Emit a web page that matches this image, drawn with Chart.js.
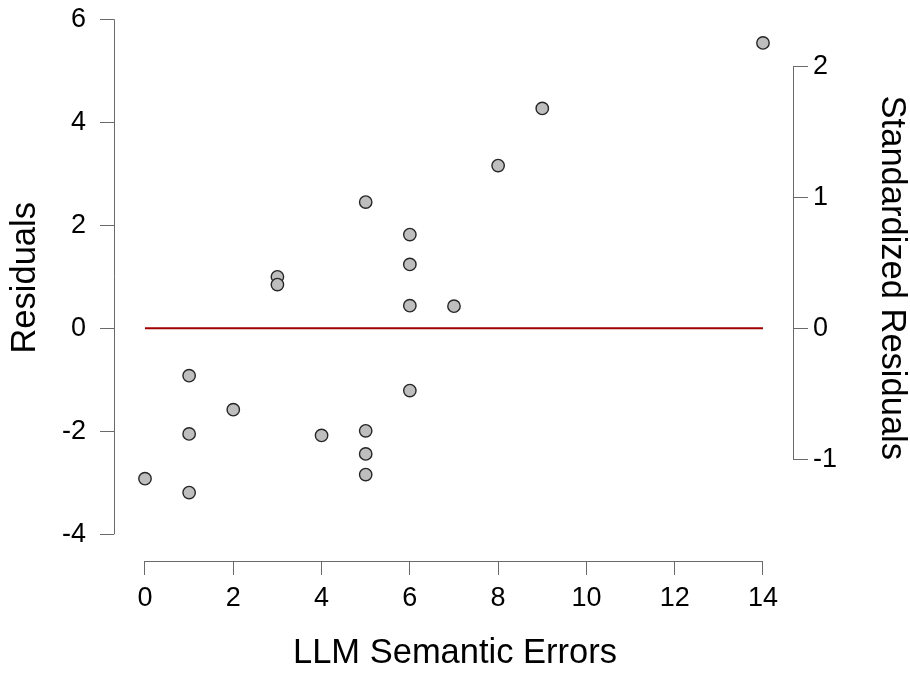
<!DOCTYPE html>
<html>
<head>
<meta charset="utf-8">
<title>Residuals vs LLM Semantic Errors</title>
<script src="https://cdn.jsdelivr.net/npm/chart.js@4/dist/chart.umd.min.js"></script>
<style>
  html, body { margin: 0; padding: 0; background: #ffffff; }
  #wrap { width: 910px; height: 673px; }
</style>
</head>
<body>
<div id="wrap"><canvas id="chart" width="910" height="673"></canvas></div>
<script>
// Observations: predictor value and model residual
const semanticErrors = [0, 1, 1, 1, 2, 3, 3, 4, 5, 5, 5, 5, 6, 6, 6, 6, 7, 8, 9, 14];
const residuals = [-2.92, -0.92, -2.05, -3.19, -1.58, 1.00, 0.85, -2.08, 2.45, -1.99,
                   -2.44, -2.84, 1.82, 1.24, 0.44, -1.21, 0.43, 3.16, 4.27, 5.54];

// Axis ticks
const xTicks = [0, 2, 4, 6, 8, 10, 12, 14];
const residualTicks = [-4, -2, 0, 2, 4, 6];
const standardizedTicks = [-1, 0, 1, 2];

// Residual units per standardized unit (links the two vertical axes)
const residualSE = 2.54;

// Horizontal reference line at zero residual
const zeroLineX = [0, 14];

const FONT = '"Liberation Sans", Arial, Helvetica, sans-serif';
const AXIS_GREY = '#6a6a6a';
const TICK_SIZE = 27;
const TITLE_SIZE = 34.5;

const Y_MIN = -4.518, Y_MAX = 6.219;

function fixBox(prop, size) {
  return function (scale) {
    scale[prop] = size;
    scale.paddingTop = 0; scale.paddingBottom = 0;
    scale.paddingLeft = 0; scale.paddingRight = 0;
  };
}
const useTicks = arr => scale => { scale.ticks = arr.map(value => ({ value })); };

// Axis lines spanning only the tick range, plus the three axis titles
const axisDecor = {
  id: 'axisDecor',
  afterDraw(chart) {
    const { ctx, chartArea, scales } = chart;
    const x = scales.x, y = scales.y, y2 = scales.y2;
    ctx.save();
    ctx.strokeStyle = AXIS_GREY;
    ctx.lineWidth = 1;
    ctx.beginPath();
    const lx = Math.round(chartArea.left) + 0.5;
    ctx.moveTo(lx, y.getPixelForValue(residualTicks[0]));
    ctx.lineTo(lx, y.getPixelForValue(residualTicks[residualTicks.length - 1]));
    const by = Math.round(chartArea.bottom) + 0.5;
    ctx.moveTo(x.getPixelForValue(xTicks[0]), by);
    ctx.lineTo(x.getPixelForValue(xTicks[xTicks.length - 1]), by);
    const rx = Math.round(chartArea.right) + 0.5;
    ctx.moveTo(rx, y2.getPixelForValue(standardizedTicks[0]));
    ctx.lineTo(rx, y2.getPixelForValue(standardizedTicks[standardizedTicks.length - 1]));
    ctx.stroke();

    ctx.fillStyle = '#000000';
    ctx.font = TITLE_SIZE + 'px ' + FONT;
    ctx.textAlign = 'center';
    ctx.textBaseline = 'alphabetic';
    const midX = (x.getPixelForValue(xTicks[0]) + x.getPixelForValue(xTicks[xTicks.length - 1])) / 2 + 1;
    ctx.fillText('LLM Semantic Errors', midX, chart.height - 10);

    const midY = (y.getPixelForValue(residualTicks[0]) + y.getPixelForValue(residualTicks[residualTicks.length - 1])) / 2 + 1;
    ctx.save();
    ctx.translate(35, midY);
    ctx.rotate(-Math.PI / 2);
    ctx.fillText('Residuals', 0, 0);
    ctx.restore();

    ctx.save();
    ctx.translate(882, midY);
    ctx.rotate(Math.PI / 2);
    ctx.fillText('Standardized Residuals', 0, 0);
    ctx.restore();
    ctx.restore();
  }
};

const tickFont = { family: FONT, size: TICK_SIZE };

new Chart(document.getElementById('chart'), {
  type: 'scatter',
  data: {
    datasets: [
      {
        type: 'line',
        data: zeroLineX.map(v => ({ x: v, y: 0 })),
        borderColor: '#a00000',
        borderWidth: 2,
        pointRadius: 0,
        fill: false,
        order: 2
      },
      {
        data: semanticErrors.map((v, i) => ({ x: v, y: residuals[i] })),
        backgroundColor: '#bebebe',
        borderColor: '#262626',
        borderWidth: 1.4,
        pointRadius: 6.2,
        pointHoverRadius: 6.2,
        order: 1
      }
    ]
  },
  options: {
    responsive: false,
    devicePixelRatio: 1,
    animation: false,
    layout: { padding: { top: 8, left: 0, right: 0, bottom: 0 } },
    plugins: { legend: { display: false }, tooltip: { enabled: false } },
    scales: {
      x: {
        type: 'linear',
        position: 'bottom',
        min: -0.702,
        max: 14.68,
        afterBuildTicks: useTicks(xTicks),
        afterFit: fixBox('height', 112),
        border: { display: false },
        grid: { drawOnChartArea: false, drawTicks: true, tickLength: 14, color: AXIS_GREY, lineWidth: 1 },
        ticks: { font: tickFont, color: '#000', padding: 7, maxRotation: 0, autoSkip: false, callback: v => String(v) }
      },
      y: {
        type: 'linear',
        position: 'left',
        min: Y_MIN,
        max: Y_MAX,
        afterBuildTicks: useTicks(residualTicks),
        afterFit: fixBox('width', 114),
        border: { display: false },
        grid: { drawOnChartArea: false, drawTicks: true, tickLength: 14, color: AXIS_GREY, lineWidth: 1 },
        ticks: { font: tickFont, color: '#000', padding: 14, autoSkip: false, callback: v => String(v) }
      },
      y2: {
        type: 'linear',
        position: 'right',
        min: Y_MIN / residualSE,
        max: Y_MAX / residualSE,
        afterBuildTicks: useTicks(standardizedTicks),
        afterFit: fixBox('width', 117),
        border: { display: false },
        grid: { drawOnChartArea: false, drawTicks: true, tickLength: 15, color: AXIS_GREY, lineWidth: 1 },
        ticks: { font: tickFont, color: '#000', padding: 5, autoSkip: false, callback: v => String(v) }
      }
    }
  },
  plugins: [axisDecor]
});
</script>
</body>
</html>
